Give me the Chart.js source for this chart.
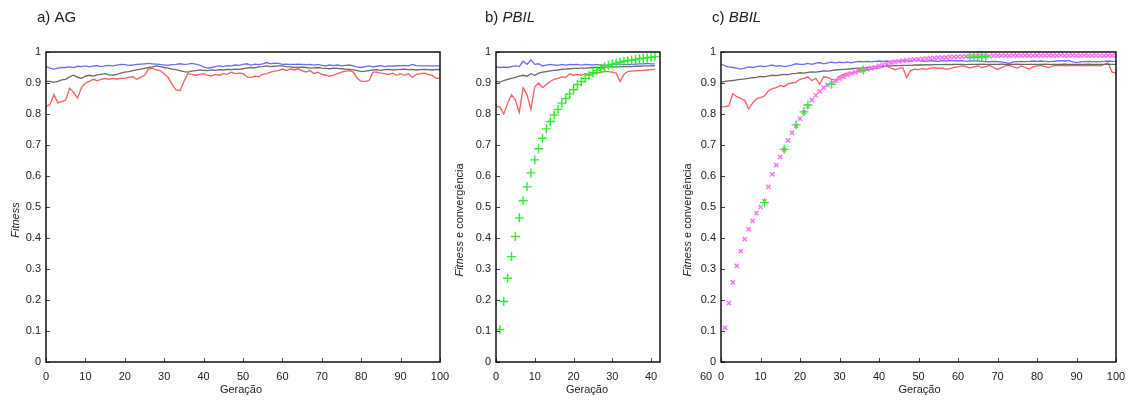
<!DOCTYPE html>
<html>
<head>
<meta charset="utf-8">
<script src="https://cdn.jsdelivr.net/npm/chart.js@4.4.1/dist/chart.umd.min.js"></script>
<style>
  body { margin: 0; background: #fff; }
  #wrap { position: relative; width: 1133px; height: 401px; overflow: hidden; }
  canvas { position: absolute; top: 0; }
</style>
</head>
<body>
<div id="wrap">
  <canvas id="ag" width="450" height="401" style="left:0"></canvas>
  <canvas id="pbil" width="220" height="401" style="left:450px"></canvas>
  <canvas id="bbil" width="463" height="401" style="left:670px"></canvas>
</div>
<script>
// ---- tick values / labels ----
const yTicks = [0, 0.1, 0.2, 0.3, 0.4, 0.5, 0.6, 0.7, 0.8, 0.9, 1];
const yTickLabels = ['0', '0.1', '0.2', '0.3', '0.4', '0.5', '0.6', '0.7', '0.8', '0.9', '1'];
const genTicks100 = [0, 10, 20, 30, 40, 50, 60, 70, 80, 90, 100];
const genTicks40 = [0, 10, 20, 30, 40];

// ---- a) AG, generations 0..100 ----
const agBlue = [
  .953, .948, .945, .948, .950, .950, .952, .950, .954, .953,
  .955, .952, .955, .956, .953, .955, .957, .955, .958, .960,
  .959, .957, .958, .960, .961, .962, .963, .962, .961, .960,
  .958, .957, .959, .960, .962, .960, .961, .963, .961, .958,
  .952, .948, .950, .953, .955, .953, .956, .955, .958, .957,
  .960, .962, .958, .961, .959, .962, .966, .962, .964, .963,
  .960, .961, .960, .960, .961, .960, .959, .960, .958, .960,
  .957, .955, .958, .956, .958, .955, .957, .958, .955, .952,
  .950, .953, .955, .952, .954, .956, .953, .955, .954, .956,
  .955, .957, .955, .960, .956, .955, .955, .955, .955, .955, .955
];
const agGray = [
  .905, .905, .902, .905, .910, .912, .920, .925, .918, .915,
  .922, .925, .922, .926, .928, .930, .926, .925, .928, .932,
  .935, .937, .940, .942, .945, .947, .950, .952, .955, .953,
  .950, .948, .945, .943, .940, .937, .935, .938, .940, .942,
  .941, .940, .942, .941, .943, .942, .944, .943, .945, .944,
  .946, .948, .950, .949, .952, .953, .955, .953, .954, .955,
  .955, .953, .952, .950, .950, .951, .950, .948, .949, .950,
  .948, .947, .946, .948, .947, .946, .945, .944, .942, .940,
  .937, .938, .940, .942, .943, .941, .943, .944, .942, .943,
  .944, .945, .943, .944, .942, .943, .944, .943, .942, .943, .943
];
const agRed = [
  .825, .830, .863, .836, .840, .845, .883, .870, .851, .885,
  .900, .905, .912, .908, .912, .915, .912, .915, .913, .915,
  .915, .918, .920, .912, .918, .925, .945, .948, .942, .940,
  .930, .918, .895, .878, .875, .905, .930, .928, .925, .928,
  .930, .925, .922, .928, .925, .930, .928, .935, .930, .932,
  .930, .920, .918, .922, .920, .928, .930, .935, .938, .940,
  .945, .940, .945, .942, .945, .940, .935, .940, .930, .935,
  .928, .925, .922, .925, .930, .935, .938, .940, .935, .915,
  .905, .905, .908, .935, .935, .932, .930, .928, .932, .925,
  .930, .925, .930, .918, .928, .930, .932, .928, .925, .915, .915
];

// ---- b) PBIL, generations 0..41 ----
const pbilBlue = [
  .952, .950, .951, .950, .953, .955, .953, .970, .960, .975,
  .960, .962, .955, .958, .960, .958, .957, .960, .958, .960,
  .959, .960, .958, .960, .959, .958, .960, .958, .957, .958,
  .960, .962, .961, .960, .959, .960, .961, .962, .962, .963,
  .962, .962
];
const pbilGray = [
  .905, .903, .908, .912, .915, .918, .922, .925, .922, .930,
  .925, .932, .935, .937, .939, .941, .942, .944, .945, .946,
  .947, .947, .948, .948, .949, .950, .950, .950, .951, .951,
  .952, .952, .952, .953, .953, .953, .954, .954, .955, .955,
  .955, .956
];
const pbilRed = [
  .825, .822, .800, .835, .862, .845, .805, .885, .862, .815,
  .888, .900, .885, .895, .905, .912, .915, .920, .918, .930,
  .925, .928, .925, .930, .928, .930, .932, .934, .937, .937,
  .935, .932, .905, .928, .937, .938, .939, .940, .941, .942,
  .943, .944
];
// convergence, generations 1..41
const pbilConv = [
  .105, .195, .270, .340, .405, .465, .520, .565, .610, .652,
  .688, .722, .752, .776, .797, .815, .835, .850, .865, .878,
  .895, .905, .915, .925, .933, .940, .946, .952, .957, .961,
  .964, .967, .970, .972, .974, .976, .978, .980, .981, .983,
  .985
];

// ---- c) BBIL, generations 0..100 ----
const bbilBlue = [
  .962, .955, .952, .950, .948, .945, .948, .952, .950, .953,
  .955, .953, .955, .958, .954, .956, .953, .955, .958, .962,
  .960, .960, .963, .960, .964, .966, .962, .965, .967, .965,
  .967, .966, .968, .965, .968, .970, .968, .970, .968, .970,
  .971, .970, .971, .970, .971, .972, .971, .972, .971, .972,
  .972, .971, .970, .972, .971, .970, .972, .971, .973, .972,
  .971, .972, .970, .971, .972, .971, .970, .969, .968, .970,
  .969, .968, .966, .963, .968, .969, .970, .969, .970, .971,
  .970, .971, .970, .969, .970, .971, .972, .971, .973, .968,
  .966, .968, .969, .970, .969, .968, .969, .970, .971, .970, .970
];
const bbilGray = [
  .903, .905, .907, .908, .910, .912, .913, .915, .917, .918,
  .921, .920, .923, .925, .924, .926, .928, .927, .930, .931,
  .933, .932, .934, .936, .935, .937, .939, .938, .940, .942,
  .943, .944, .945, .946, .947, .948, .949, .950, .951, .952,
  .953, .954, .955, .955, .956, .956, .957, .957, .957, .958,
  .958, .958, .959, .958, .959, .959, .959, .960, .959, .960,
  .960, .960, .959, .960, .960, .960, .961, .960, .960, .960,
  .960, .961, .960, .960, .960, .961, .960, .960, .960, .960,
  .960, .960, .961, .960, .960, .960, .960, .961, .960, .960,
  .960, .960, .960, .961, .960, .960, .960, .960, .960, .960, .960
];
const bbilRed = [
  .823, .824, .826, .866, .856, .850, .844, .816, .835, .850,
  .853, .858, .875, .882, .885, .892, .888, .898, .900, .903,
  .912, .915, .920, .908, .915, .896, .920, .918, .912, .910,
  .922, .928, .932, .933, .935, .938, .940, .942, .945, .947,
  .948, .952, .955, .948, .943, .946, .950, .918, .940, .945,
  .943, .946, .944, .948, .950, .947, .949, .944, .946, .950,
  .952, .955, .953, .948, .952, .955, .950, .953, .957, .950,
  .943, .950, .955, .957, .952, .948, .955, .950, .945, .952,
  .955, .957, .953, .950, .955, .956, .957, .955, .956, .957,
  .956, .957, .955, .956, .957, .956, .955, .960, .965, .935, .932
];
// convergence (magenta), generations 1..100
const bbilConv = [
  .110, .190, .257, .310, .358, .396, .428, .455, .480, .500,
  .518, .565, .605, .635, .662, .685, .715, .740, .762, .785,
  .805, .825, .845, .860, .873, .885, .893, .900, .907, .914,
  .920, .926, .931, .935, .939, .942, .945, .948, .951, .955,
  .959, .962, .965, .968, .970, .972, .973, .975, .976, .977,
  .978, .979, .980, .981, .982, .983, .983, .984, .984, .985,
  .985, .986, .986, .986, .987, .987, .987, .987, .988, .988,
  .988, .988, .988, .989, .988, .988, .989, .988, .988, .989,
  .988, .988, .989, .988, .988, .989, .988, .988, .989, .988,
  .988, .989, .988, .988, .989, .988, .988, .989, .988, .988
];
// convergence (green), only where it shows
const bbilGreenGen = [0, 11, 16, 19, 21, 22, 28, 36, 63, 64, 65, 66, 67];
const bbilGreenVal = [0, .514, .686, .765, .807, .829, .896, .942, .983, .984, .985, .985, .986];

const BLUE = '#6a6aff', GRAY = '#6a6a6a', RED = '#ff5c5c', GREEN = '#2cf02c', MAGENTA = '#ff6cff';
const FONT = '"Liberation Sans", Arial, sans-serif';
Chart.defaults.font.family = FONT;

const pts = (vals, start) => vals.map((v, i) => ({ x: i + start, y: v }));

function lineSet(vals, color, order) {
  return { data: pts(vals, 0), borderColor: color, borderWidth: 1.3, pointRadius: 0, tension: 0, order };
}
function markSet(data, color, style, r, order) {
  return { data, showLine: false, pointStyle: style, pointRadius: r, borderColor: color,
           backgroundColor: color, pointBorderWidth: 1.4, order };
}

function drawParts(ctx, parts, x, y, size, center) {
  const widths = parts.map(([t, it]) => { ctx.font = (it ? 'italic ' : '') + size + 'px ' + FONT; return ctx.measureText(t).width; });
  let cx = center ? x - widths.reduce((s, w) => s + w, 0) / 2 : x;
  parts.forEach(([t, it], i) => {
    ctx.font = (it ? 'italic ' : '') + size + 'px ' + FONT;
    ctx.fillText(t, cx, y);
    cx += widths[i];
  });
}

// box, inward tick marks, titles
const frame = {
  id: 'frame',
  afterDraw(chart, args, o) {
    const { ctx, chartArea: a } = chart;
    const xs = chart.scales.x, ys = chart.scales.y;
    ctx.save();
    ctx.strokeStyle = '#444';
    ctx.lineWidth = 1;
    ctx.beginPath();
    xs.ticks.forEach(t => {
      const p = Math.round(xs.getPixelForValue(t.value)) + 0.5;
      ctx.moveTo(p, a.bottom); ctx.lineTo(p, a.bottom - 4);
    });
    ys.ticks.forEach(t => {
      const p = Math.round(ys.getPixelForValue(t.value)) + 0.5;
      ctx.moveTo(a.left, p); ctx.lineTo(a.left + 4, p);
    });
    ctx.stroke();
    ctx.strokeStyle = '#111';
    ctx.lineWidth = 1.5;
    ctx.strokeRect(a.left, a.top, a.width, a.height);

    ctx.fillStyle = '#222';
    ctx.textBaseline = 'alphabetic';
    drawParts(ctx, o.title, a.left + o.titleDx, 22, 15, false);

    ctx.textBaseline = 'middle';
    drawParts(ctx, o.xTitle, (a.left + a.right) / 2 + o.xTitleDx, 390, 11, true);
    if (o.stray) drawParts(ctx, [[o.stray, false]], a.left + o.strayDx, 377, 11, true);

    ctx.translate(a.left + o.yTitleDx, 220);
    ctx.rotate(-Math.PI / 2);
    drawParts(ctx, o.yTitle, 0, 0, 11, true);
    ctx.restore();
  }
};

function makeChart(id, datasets, xMax, xTicks, left, right, o) {
  return new Chart(document.getElementById(id), {
    type: 'line',
    data: { datasets },
    plugins: [frame],
    options: {
      responsive: false,
      animation: false,
      devicePixelRatio: 1,
      layout: { padding: { top: 52, right, bottom: 0, left: 0 } },
      plugins: { legend: { display: false }, tooltip: { enabled: false }, frame: o },
      scales: {
        x: {
          type: 'linear', min: 0, max: xMax,
          grid: { display: false, drawTicks: false }, border: { display: false },
          afterBuildTicks: s => { s.ticks = xTicks.map(v => ({ value: v })); },
          afterFit: s => { s.height = 39; s.paddingLeft = 0; s.paddingRight = 0; },
          ticks: { padding: 8, color: '#222', font: { size: 11 }, maxRotation: 0, autoSkip: false,
                   callback: v => String(v) }
        },
        y: {
          min: 0, max: 1,
          grid: { display: false, drawTicks: false }, border: { display: false },
          afterBuildTicks: s => { s.ticks = yTicks.map(v => ({ value: v })); },
          afterFit: s => { s.width = left; s.paddingTop = 0; s.paddingBottom = 0; },
          ticks: { padding: 5, color: '#222', font: { size: 11 }, autoSkip: false,
                   callback: (v, i) => yTickLabels[i] }
        }
      }
    }
  });
}

makeChart('ag', [
  lineSet(agBlue, BLUE, 2),
  lineSet(agGray, GRAY, 3),
  lineSet(agRed, RED, 4)
], 100, genTicks100, 46, 10, {
  title: [['a) AG', false]], titleDx: -9,
  xTitle: [['Geração', false]], xTitleDx: -2,
  yTitle: [['Fitness', true]], yTitleDx: -30
});

makeChart('pbil', [
  markSet(pts(pbilConv, 1), GREEN, 'cross', 4.5, 0),
  lineSet(pbilBlue, BLUE, 2),
  lineSet(pbilGray, GRAY, 3),
  lineSet(pbilRed, RED, 4)
], 42.3, genTicks40, 46, 10, {
  title: [['b) ', false], ['PBIL', true]], titleDx: -11,
  xTitle: [['Geração', false]], xTitleDx: 9,
  yTitle: [['Fitness', true], [' e convergência', false]], yTitleDx: -36
});

makeChart('bbil', [
  markSet(bbilGreenGen.map((g, i) => ({ x: g, y: bbilGreenVal[i] })), GREEN, 'cross', 4.5, 0),
  markSet(pts(bbilConv, 1), MAGENTA, 'crossRot', 3, 1),
  lineSet(bbilBlue, BLUE, 2),
  lineSet(bbilGray, GRAY, 3),
  lineSet(bbilRed, RED, 4)
], 100, genTicks100, 51, 17, {
  title: [['c) ', false], ['BBIL', true]], titleDx: -9,
  xTitle: [['Geração', false]], xTitleDx: 1,
  yTitle: [['Fitness', true], [' e convergência', false]], yTitleDx: -33,
  stray: '60', strayDx: -15
});
</script>
</body>
</html>
